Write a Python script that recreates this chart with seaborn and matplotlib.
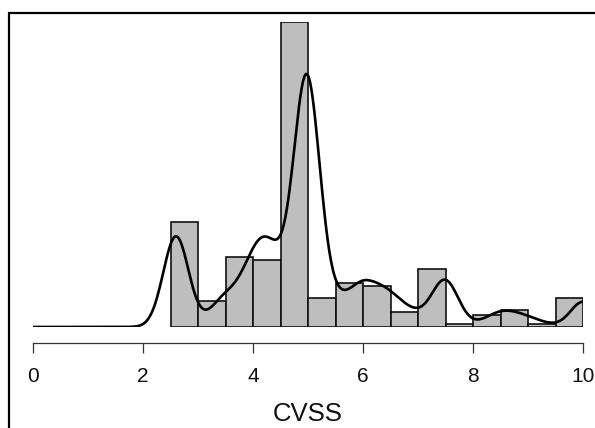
import numpy as np
import pandas as pd
import matplotlib
matplotlib.use("Agg")
import matplotlib.pyplot as plt
from matplotlib.patches import Rectangle
import seaborn as sns

# CVSS scores and how many vulnerabilities got each one
scores = [2.6, 3.3, 3.5, 3.6, 3.8, 4.0, 4.3, 4.6, 4.7, 4.9, 5.0,
          5.1, 5.4, 5.5, 5.8, 6.0, 6.2, 6.4, 6.5, 6.8, 7.2, 7.5, 7.8,
          8.3, 8.5, 8.6, 8.8, 9.0, 9.3, 10.0]
counts = [36, 3, 6, 3, 3, 18, 23, 4, 6, 19, 76,
          2, 3, 5, 5, 10, 4, 6, 4, 5, 3, 17, 1,
          2, 2, 2, 2, 2, 1, 10]
bin_edges = [2.5, 3.0, 3.5, 4.0, 4.5, 5.0, 5.5, 6.0, 6.5, 7.0, 7.5, 8.0, 8.5, 9.0, 9.5, 10.0]
kde_bw = 0.23

df = pd.DataFrame({"CVSS": scores, "n": counts})

sns.set_style("white")
plt.rcParams["font.family"] = ["Liberation Sans", "DejaVu Sans"]

fig = plt.figure(figsize=(5.95, 4.28), dpi=100)
ax = fig.add_axes([33 / 595, 101 / 428, 550 / 595, 305 / 428])

# R style right-closed bins
edges = [float(e) + 1e-9 for e in bin_edges]
sns.histplot(data=df, x="CVSS", weights="n", bins=edges, stat="density",
             color="#BEBEBE", alpha=1, edgecolor="#111111", linewidth=1.2, ax=ax)

sd = float(np.sqrt(np.cov(df["CVSS"], aweights=df["n"])))
sns.kdeplot(data=df, x="CVSS", weights="n", bw_method=kde_bw / sd, cut=12,
            clip=(0, 10), gridsize=400, color="black", linewidth=1.9, ax=ax)

top = max(p.get_height() for p in ax.patches)
ax.set_xlim(0, 10)
ax.set_ylim(0, top)

for s in ["left", "right", "top"]:
    ax.spines[s].set_visible(False)
ax.spines["bottom"].set_position(("outward", 11.5))
ax.spines["bottom"].set_color("#333333")
ax.spines["bottom"].set_linewidth(0.9)
ax.set_yticks([])
ax.set_ylabel("")
ax.set_xticks([0, 2, 4, 6, 8, 10])
ax.tick_params(axis="x", direction="out", length=7.5, width=0.9, color="#333333",
               pad=10, labelsize=15, labelcolor="#111111", bottom=True)
ax.set_xlabel("CVSS", fontsize=18.5, labelpad=11, color="#111111")

# outer frame of the figure
fig.add_artist(Rectangle((8.5 / 595, -0.2), 1.2, (428 - 12.5) / 428 + 0.2,
                         transform=fig.transFigure, fill=False,
                         edgecolor="black", linewidth=1.6, clip_on=False))

fig.savefig("out.png", dpi=100)
